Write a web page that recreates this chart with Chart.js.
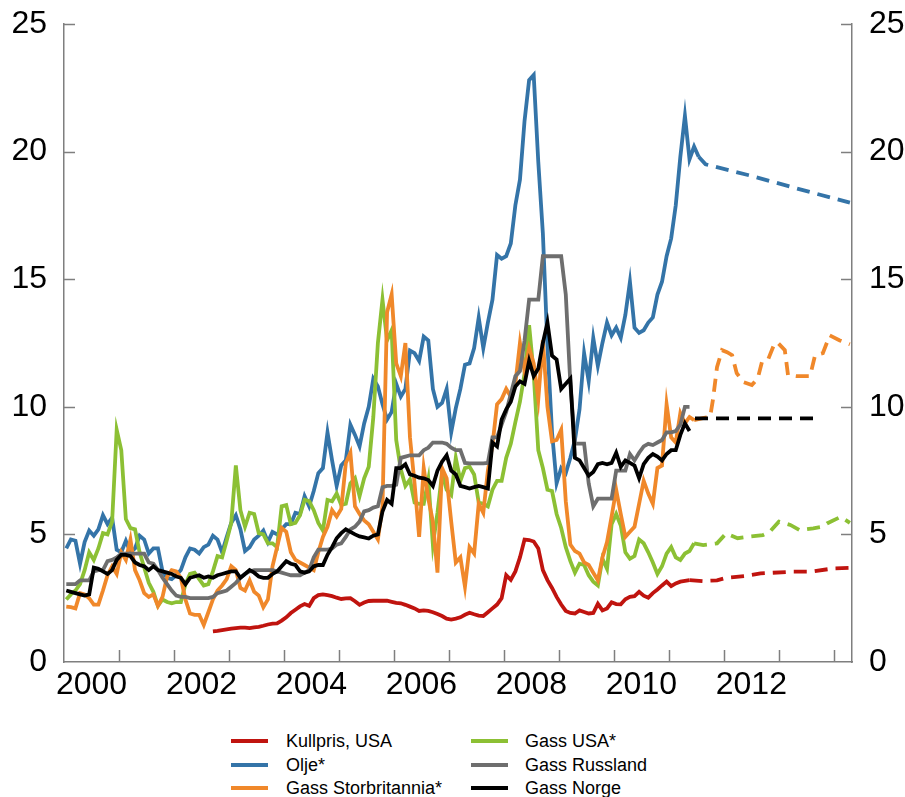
<!DOCTYPE html>
<html>
<head>
<meta charset="utf-8">
<script src="https://cdn.jsdelivr.net/npm/chart.js@4.4.0/dist/chart.umd.min.js"></script>
<style>
  body { margin: 0; background: #fff; }
  #wrap { position: relative; width: 905px; height: 797px; font-family: "Liberation Sans", Arial, sans-serif; }
  #chart { position: absolute; left: 0; top: 0; }
  .item { position: absolute; font-size: 18px; line-height: 20px; color: #000; white-space: nowrap; }
  .swatch { position: absolute; width: 37px; height: 4px; }
</style>
</head>
<body>
<div id="wrap">
  <canvas id="chart" width="905" height="715"></canvas>
  <div id="legend"></div>
</div>
<script>
// Month index 0 = January 2000. Historical series are monthly averages.
const seriesNames = ['Kullpris, USA', 'Olje*', 'Gass Storbritannia*', 'Gass USA*', 'Gass Russland', 'Gass Norge'];
const seriesColors = ['#c0140f', '#3474a8', '#f0882a', '#8cc034', '#6e6e6e', '#000000'];

const xTickYears = [2000, 2002, 2004, 2006, 2008, 2010, 2012];
const yTicks = [0, 5, 10, 15, 20, 25];

// Kullpris, USA starts in September 2002
const kullStart = 32;
const kull = [
  1.2, 1.22, 1.25,
  1.28, 1.31, 1.33, 1.35, 1.35, 1.33, 1.36, 1.38, 1.42, 1.47, 1.5, 1.51,
  1.62, 1.75, 1.92, 2.05, 2.18, 2.27, 2.2, 2.5, 2.62, 2.65, 2.62, 2.58,
  2.52, 2.47, 2.49, 2.5, 2.38, 2.24, 2.33, 2.39, 2.4, 2.4, 2.4, 2.4,
  2.36, 2.32, 2.3, 2.24, 2.17, 2.1, 2.0, 2.02, 2.0, 1.95, 1.88, 1.8,
  1.7, 1.66, 1.7, 1.75, 1.85, 1.93, 1.87, 1.82, 1.8, 1.95, 2.1, 2.25,
  2.5, 3.4, 3.22, 3.55, 4.1, 4.8, 4.78, 4.72, 4.45, 3.6, 3.21, 2.9,
  2.55, 2.25, 2.0, 1.92, 1.9, 2.02, 1.96, 1.9, 1.92, 2.28, 2.02, 2.1,
  2.34, 2.27, 2.26, 2.46, 2.55, 2.58, 2.75, 2.6, 2.52, 2.7, 2.84, 3.0,
  3.15, 2.97, 3.08, 3.15, 3.18, 3.21
];

const olje = [
  4.45, 4.8, 4.75, 3.85, 4.7, 5.15, 4.95, 5.2, 5.75, 5.4, 5.65, 4.4,
  4.3, 4.75, 4.3, 4.45, 4.95, 4.8, 4.25, 4.45, 4.45, 3.55, 3.3, 3.25,
  3.4, 3.6, 4.1, 4.45, 4.4, 4.25, 4.5, 4.6, 4.95, 4.8, 4.3, 4.9,
  5.45, 5.75, 5.2, 4.35, 4.5, 4.8, 4.95, 5.15, 4.7, 5.1, 5.0, 5.2,
  5.4, 5.4, 5.85, 5.8, 6.5, 6.1, 6.7, 7.4, 7.6, 9.0, 7.9, 6.9,
  7.7, 7.9, 9.3, 8.9, 8.45, 9.35, 10.0, 11.1, 10.8, 10.1, 9.5, 9.8,
  10.9, 10.4, 10.7, 12.2, 12.1, 11.8, 12.75, 12.6, 10.7, 10.0, 10.15, 10.7,
  9.0, 9.95, 10.7, 11.65, 11.7, 12.3, 13.5, 12.3, 13.3, 14.2, 15.95, 15.8,
  15.9, 16.4, 17.9, 18.9, 21.2, 22.8, 23.0, 19.6, 16.8, 12.4, 9.0, 7.0,
  7.6, 7.4, 8.0, 8.7, 9.9, 12.1, 11.0, 12.7, 11.6, 12.5, 13.3, 12.8,
  13.1, 12.7, 13.6, 14.9, 13.1, 12.9, 13.0, 13.3, 13.5, 14.4, 14.9, 15.9,
  16.6, 17.9, 19.8, 21.4, 19.7, 20.2, 19.8
];

const gassUK = [
  2.17, 2.15, 2.1, 2.7, 2.65, 2.5, 2.25, 2.25, 2.8, 3.4, 3.75, 3.45,
  4.3, 4.0, 4.8, 3.6, 3.2, 2.7, 2.55, 2.65, 2.2, 2.55, 3.35, 3.6,
  3.55, 3.3, 2.45, 1.9, 1.85, 1.85, 1.45, 1.95, 2.45, 2.8, 3.0, 3.25,
  3.75, 3.6, 2.9, 2.8, 3.2, 2.75, 2.6, 2.15, 2.45, 3.75, 4.5, 5.25,
  5.1, 4.3, 4.0, 3.9, 3.8, 3.7, 3.6, 4.3, 4.9, 5.3, 5.95, 5.7,
  6.0, 7.8, 8.2, 6.1, 5.8, 5.55, 5.4, 5.1, 4.8, 6.1, 13.7, 14.4,
  11.7, 11.2, 12.5, 8.8, 7.0, 4.9, 7.6, 6.4, 5.5, 3.5, 7.6, 7.2,
  5.5, 3.9, 4.1, 2.95, 4.5, 4.25, 6.2, 5.85, 7.5, 8.5, 10.1, 10.3,
  10.7, 10.4, 10.9, 12.5, 11.4, 12.3, 11.7, 10.3, 12.6, 10.0, 8.65, 8.7,
  9.1, 6.3, 4.6, 4.35, 4.25, 3.9, 3.8, 3.5, 3.2, 4.1, 4.7, 5.7,
  6.75, 5.8, 4.9, 5.1, 5.3, 6.2, 7.1, 6.6, 6.2, 7.6, 7.7, 10.1,
  8.8, 8.6, 9.75, 9.35, 9.6, 9.48
];

const gassUSA = [
  2.45, 2.65, 2.8, 3.05, 3.6, 4.3, 4.0, 4.45, 5.05, 5.0, 5.5, 9.1,
  8.3, 5.6, 5.25, 5.2, 4.3, 3.7, 3.1, 2.75, 2.2, 2.45, 2.35, 2.3,
  2.35, 2.35, 3.05, 3.45, 3.5, 3.25, 3.0, 3.05, 3.55, 4.15, 4.1, 4.75,
  5.45, 7.7, 5.95, 5.3, 5.85, 5.8, 5.05, 5.0, 4.65, 4.65, 4.5, 6.1,
  6.15, 5.4, 5.45, 5.75, 6.35, 6.3, 5.95, 5.45, 5.15, 6.35, 6.3, 6.6,
  6.15, 6.2, 7.0, 7.2, 6.5, 7.2, 7.65, 9.6, 12.5, 14.2, 12.6, 13.0,
  8.7, 7.55, 6.9, 7.15, 6.25, 6.2, 6.2, 7.15, 4.6, 5.85, 7.4, 6.75,
  6.55, 8.0, 7.1, 7.6, 7.65, 7.35, 6.25, 6.2, 6.1, 6.75, 7.1, 7.1,
  8.0, 8.55, 9.4, 10.2, 11.3, 13.2, 11.3, 8.3, 7.6, 6.75, 6.7, 5.8,
  5.25, 4.5, 3.95, 3.5, 3.85, 3.8, 3.4, 3.15, 3.0, 4.05, 3.65, 5.4,
  5.8, 5.35, 4.3, 4.05, 4.15, 4.8, 4.65, 4.3, 3.9, 3.45, 3.75, 4.25,
  4.5, 4.1, 4.0, 4.25, 4.35, 4.65
];

const gassRussland = [
  3.05, 3.05, 3.05, 3.2, 3.2, 3.2, 3.55, 3.6, 3.6, 3.95, 4.0, 4.1,
  4.25, 4.25, 4.25, 4.25, 4.25, 4.25, 3.9, 3.85, 3.6, 3.3, 3.05, 2.8,
  2.6, 2.55, 2.55, 2.5, 2.5, 2.5, 2.5, 2.5, 2.55, 2.7, 2.75, 2.8,
  2.95, 3.1, 3.3, 3.45, 3.55, 3.6, 3.6, 3.6, 3.6, 3.6, 3.55, 3.5,
  3.45, 3.4, 3.4, 3.4, 3.5, 3.6, 4.1, 4.4, 4.4, 4.4, 4.45, 4.6,
  4.65, 4.9, 5.2, 5.3, 5.5, 5.9, 5.95, 6.05, 6.1, 6.85, 6.9, 6.9,
  6.95, 8.0, 8.05, 8.1, 8.1, 8.1, 8.3, 8.4, 8.6, 8.6, 8.6, 8.55,
  8.4, 8.3, 8.3, 7.8, 7.78, 7.78, 7.78, 7.78, 7.8, 8.8, 8.8, 9.3,
  9.8, 10.5, 11.2, 11.4, 12.6, 14.2, 14.2, 14.2, 15.9, 15.9, 15.9, 15.9,
  15.9, 14.4, 10.9, 8.56, 8.56, 8.56, 7.0, 6.1, 6.4, 6.4, 6.4, 6.4,
  7.5, 7.5, 7.5, 8.15, 7.9, 8.2, 8.45, 8.55, 8.5, 8.6, 8.7, 9.0,
  9.0, 9.05, 9.3, 10.0, 10.0
];

const gassNorge = [
  2.8, 2.75, 2.7, 2.65, 2.6, 2.65, 3.7, 3.65, 3.55, 3.45, 3.6, 4.0,
  4.2, 4.2, 4.15, 3.9, 3.8, 3.75, 3.6, 3.75, 3.6, 3.55, 3.5, 3.45,
  3.35, 3.3, 3.05, 3.3, 3.35, 3.4, 3.3, 3.35, 3.3, 3.4, 3.45, 3.5,
  3.55, 3.55, 3.3, 3.45, 3.6, 3.5, 3.35, 3.3, 3.3, 3.45, 3.55, 3.75,
  3.95, 3.85, 3.8, 3.55, 3.5, 3.55, 3.75, 3.8, 3.8, 4.2, 4.5, 4.85,
  5.05, 5.2, 5.1, 5.0, 4.92, 4.88, 4.84, 4.95, 5.0, 5.9, 6.35, 6.2,
  7.6, 7.6, 7.75, 7.35, 7.3, 7.22, 7.2, 7.13, 6.9, 7.5, 7.85, 8.1,
  7.5, 7.35, 6.9, 6.85, 6.8, 6.85, 6.9, 6.85, 6.8, 8.6, 8.45, 9.5,
  9.9, 10.2, 10.8, 11.0, 10.9, 11.8, 11.2, 11.5, 12.5, 13.3, 12.0, 11.85,
  10.7, 10.9, 11.1, 8.0, 7.9, 7.6, 7.3, 7.45, 7.75, 7.8, 7.75, 7.8,
  8.2, 7.65, 7.9, 7.8, 7.7, 7.2, 7.75, 8.0, 8.15, 8.05, 7.9, 8.15,
  8.3, 8.3, 8.9, 9.35, 9.05
];

// Forward prices (dashed), positioned by fractional month from January 2000
const kullTerminMnd = [136.5, 139.5, 142.5, 144.5, 148.5, 152, 159, 163, 168, 171.5];
const kullTermin = [3.21, 3.17, 3.2, 3.3, 3.37, 3.47, 3.54, 3.54, 3.67, 3.69];
const oljeTerminMnd = [138.5, 140, 150, 160, 171.5];
const oljeTermin = [19.8, 19.5, 19.05, 18.55, 18.0];
const gassUKTerminMnd = [137.5, 139.4, 141, 141.6, 142.5, 143.6, 144.7, 145.8, 146.8, 148.2, 150.1, 151.4,
  152.3, 153.6, 155.1, 155.8, 157.3, 158, 159.9, 162.8, 163.9, 165.6, 167.1, 169.3, 171.5];
const gassUKTermin = [9.48, 9.56, 9.6, 10.26, 11.55, 12.22, 12.14, 12.02, 11.32, 10.97, 10.85, 11.12,
  11.75, 11.83, 12.5, 12.5, 12.22, 11.24, 11.2, 11.2, 12.02, 12.1, 12.8, 12.6, 12.45];
const gassUSATerminMnd = [137.5, 139.5, 142.5, 144.5, 147, 149.5, 152.5, 154, 156, 158.5, 160.5, 163.5, 165.5, 166.5, 169.5, 171.5];
const gassUSATermin = [4.65, 4.58, 4.65, 5.04, 4.85, 4.91, 4.97, 5.1, 5.5, 5.37, 5.17, 5.24, 5.3, 5.43, 5.69, 5.45];
const gassNorgeTerminMnd = [137.7, 163.5];
const gassNorgeTermin = [9.55, 9.55];

const monthly = (values, start = 0) => values.map((v, i) => ({ x: 2000 + (start + i + 0.5) / 12, y: v }));
const termin = (months, values) => months.map((m, i) => ({ x: 2000 + m / 12, y: values[i] }));

// lower order = drawn on top
const drawOrder = [5, 4, 2, 3, 1, 0];

function line(idx, data, dashed) {
  return {
    label: seriesNames[idx] + (dashed ? ' (termin)' : ''),
    data: data,
    borderColor: seriesColors[idx],
    borderWidth: 3.8,
    borderDash: dashed ? [13, 8] : [],
    pointRadius: 0,
    fill: false,
    tension: 0,
    order: drawOrder[idx]
  };
}

const datasets = [
  line(0, monthly(kull, kullStart)),
  line(1, monthly(olje)),
  line(2, monthly(gassUK)),
  line(3, monthly(gassUSA)),
  line(4, monthly(gassRussland)),
  line(5, monthly(gassNorge)),
  line(0, termin(kullTerminMnd, kullTermin), true),
  line(1, termin(oljeTerminMnd, oljeTermin), true),
  line(2, termin(gassUKTerminMnd, gassUKTermin), true),
  line(3, termin(gassUSATerminMnd, gassUSATermin), true),
  line(5, termin(gassNorgeTerminMnd, gassNorgeTermin), true)
];

const axisColor = '#7f7f7f';
const tickFont = { family: '"Liberation Sans", Arial, sans-serif', size: 32 };

// short inward tick marks: year boundaries on x, every 5 on both y axes
const innerTicks = {
  id: 'innerTicks',
  afterDatasetsDraw(chart) {
    const { ctx, chartArea: a, scales } = chart;
    ctx.save();
    ctx.strokeStyle = axisColor;
    ctx.lineWidth = 1.5;
    ctx.beginPath();
    for (let yr = 2001; yr <= 2014; yr++) {
      const px = Math.round(scales.x.getPixelForValue(yr)) + 0.5;
      ctx.moveTo(px, a.bottom);
      ctx.lineTo(px, a.bottom - 12);
    }
    yTicks.forEach(v => {
      if (v === 0) return;
      const py = Math.round(scales.y.getPixelForValue(v)) + 0.5;
      ctx.moveTo(a.left, py);
      ctx.lineTo(a.left + 11, py);
      ctx.moveTo(a.right, py);
      ctx.lineTo(a.right - 11, py);
    });
    ctx.stroke();
    ctx.restore();
  }
};

const yAxis = (position, width) => ({
  position: position,
  min: 0,
  max: 25,
  grid: { display: false, drawTicks: false },
  border: { display: true, color: axisColor, width: 1.5 },
  ticks: { stepSize: 5, padding: 17, color: '#000', font: tickFont },
  afterBuildTicks(scale) { scale.ticks = yTicks.map(v => ({ value: v })); },
  afterFit(scale) {
    scale.width = width;
    scale.paddingTop = 0;
    scale.paddingBottom = 0;
  }
});

new Chart(document.getElementById('chart'), {
  type: 'line',
  data: { datasets },
  plugins: [innerTicks],
  options: {
    responsive: false,
    animation: false,
    layout: { padding: { top: 24, left: 0, right: 0, bottom: 0 } },
    plugins: { legend: { display: false }, tooltip: { enabled: false } },
    scales: {
      x: {
        type: 'linear',
        min: 2000,
        max: 2014.33,
        grid: { display: false, drawTicks: false },
        border: { display: true, color: axisColor, width: 1.5 },
        ticks: {
          padding: 4,
          color: '#000',
          font: tickFont,
          maxRotation: 0,
          autoSkip: false,
          callback: v => String(Math.floor(v))
        },
        // year labels sit in the middle of each year
        afterBuildTicks(scale) { scale.ticks = xTickYears.map(y => ({ value: y + 0.5 })); },
        afterFit(scale) {
          scale.height = 53;
          scale.paddingLeft = 0;
          scale.paddingRight = 0;
        }
      },
      y: yAxis('left', 64),
      y2: yAxis('right', 53)
    }
  }
});

// legend in two columns, three rows
const legend = document.getElementById('legend');
seriesNames.forEach((name, i) => {
  const col = i < 3 ? 0 : 1;
  const row = i % 3;
  const top = 741 + row * 23.5;
  const sw = document.createElement('div');
  sw.className = 'swatch';
  sw.style.left = (col === 0 ? 231 : 471) + 'px';
  sw.style.top = (top - 2) + 'px';
  sw.style.background = seriesColors[i];
  const tx = document.createElement('div');
  tx.className = 'item';
  tx.style.left = (col === 0 ? 286 : 525) + 'px';
  tx.style.top = (top - 10) + 'px';
  tx.textContent = name;
  legend.appendChild(sw);
  legend.appendChild(tx);
});
</script>
</body>
</html>
